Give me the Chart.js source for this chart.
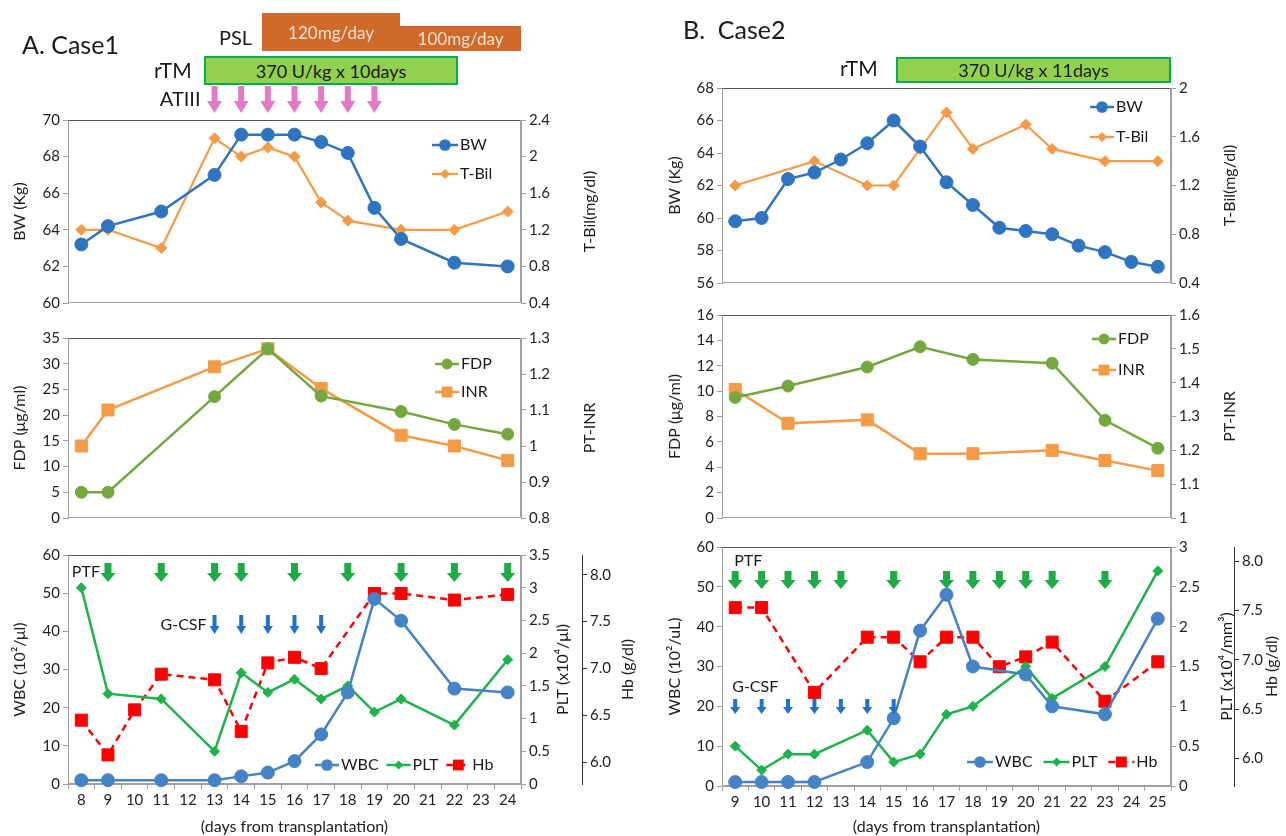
<!DOCTYPE html>
<html>
<head>
<meta charset="utf-8">
<script src="https://cdn.jsdelivr.net/npm/chart.js"></script>
<style>
  body { margin: 0; background: #fff; }
  #page { position: relative; width: 1286px; height: 836px; overflow: hidden; font-family: Lato, "Open Sans", sans-serif; color: #1a1a1a; }
  canvas { position: absolute; }
  .lbl { position: absolute; white-space: nowrap; line-height: 1; }
  .bar { position: absolute; display: flex; align-items: center; justify-content: center; box-sizing: border-box; white-space: nowrap; line-height: 1; }
</style>
</head>
<body>
<div id="page">
  <canvas id="topA" width="640" height="315" style="left:0;top:0"></canvas>
  <canvas id="midA" width="640" height="215" style="left:0;top:315px"></canvas>
  <canvas id="botA" width="640" height="306" style="left:0;top:530px"></canvas>
  <canvas id="topB" width="646" height="295" style="left:640px;top:0"></canvas>
  <canvas id="midB" width="646" height="235" style="left:640px;top:295px"></canvas>
  <canvas id="botB" width="646" height="306" style="left:640px;top:530px"></canvas>

  <div class="lbl" style="left:22px;top:32px;font-size:25px">A. Case1</div>
  <div class="lbl" style="left:219px;top:27px;font-size:20px">PSL</div>
  <div class="bar" style="left:262px;top:13px;width:138px;height:38px;background:#cf6a2b;color:#fbe3cf;font-size:17px">120mg/day</div>
  <div class="bar" style="left:400px;top:26px;width:121px;height:25px;background:#cf6a2b;color:#fbe3cf;font-size:17px">100mg/day</div>
  <div class="lbl" style="left:154px;top:59px;font-size:21px">rTM</div>
  <div class="bar" style="left:204px;top:56px;width:254px;height:29px;background:#92d050;border:2px solid #00b050;font-size:18px">370 U/kg x 10days</div>

  <div class="lbl" style="left:683px;top:17px;font-size:25px">B.&nbsp; Case2</div>
  <div class="lbl" style="left:840px;top:57px;font-size:21px">rTM</div>
  <div class="bar" style="left:896px;top:57px;width:275px;height:26px;background:#92d050;border:2px solid #00b050;font-size:18px">370 U/kg x 11days</div>
</div>
<script>
// === CASE 1 ===
const daysA = [8, 9, 10, 11, 12, 13, 14, 15, 16, 17, 18, 19, 20, 21, 22, 23, 24];
const bwDaysA = [8, 9, 11, 13, 14, 15, 16, 17, 18, 19, 20, 22, 24];
const bwA = [63.2, 64.2, 65.0, 67.0, 69.2, 69.2, 69.2, 68.8, 68.2, 65.2, 63.5, 62.2, 62.0];
const tbilDaysA = [8, 9, 11, 13, 14, 15, 16, 17, 18, 20, 22, 24];
const tbilA = [1.2, 1.2, 1.0, 2.2, 2.0, 2.1, 2.0, 1.5, 1.3, 1.2, 1.2, 1.4];
const coagDaysA = [8, 9, 13, 15, 17, 20, 22, 24];
const fdpA = [5, 5, 23.6, 32.9, 23.7, 20.7, 18.2, 16.3];
const inrA = [1.0, 1.1, 1.22, 1.27, 1.16, 1.03, 1.0, 0.96];
const cbcDaysA = [8, 9, 11, 13, 14, 15, 16, 17, 18, 19, 20, 22, 24];
const wbcA = [1, 1, 1, 1, 2, 3, 6, 13, 24, 48.5, 42.8, 25, 24];
const pltA = [3.0, 1.38, 1.3, 0.5, 1.7, 1.4, 1.6, 1.3, 1.5, 1.1, 1.3, 0.9, 1.9];
const hbDaysA = [8, 9, 10, 11, 13, 14, 15, 16, 17, 19, 20, 22, 24];
const hbA = [6.45, 6.08, 6.56, 6.94, 6.88, 6.33, 7.06, 7.12, 7.0, 7.8, 7.8, 7.73, 7.79];
const at3DaysA = [13, 14, 15, 16, 17, 18, 19];
const ptfDaysA = [9, 11, 13, 14, 16, 18, 20, 22, 24];
const gcsfDaysA = [13, 14, 15, 16, 17];

// === CASE 2 ===
const daysB = [9, 10, 11, 12, 13, 14, 15, 16, 17, 18, 19, 20, 21, 22, 23, 24, 25];
const bwDaysB = [9, 10, 11, 12, 13, 14, 15, 16, 17, 18, 19, 20, 21, 22, 23, 24, 25];
const bwB = [59.8, 60.0, 62.4, 62.8, 63.6, 64.6, 66.0, 64.4, 62.2, 60.8, 59.4, 59.2, 59.0, 58.3, 57.9, 57.3, 57.0];
const tbilDaysB = [9, 12, 14, 15, 16, 17, 18, 20, 21, 23, 25];
const tbilB = [1.2, 1.4, 1.2, 1.2, 1.5, 1.8, 1.5, 1.7, 1.5, 1.4, 1.4];
const coagDaysB = [9, 11, 14, 16, 18, 21, 23, 25];
const fdpB = [9.5, 10.4, 11.9, 13.5, 12.5, 12.2, 7.7, 5.5];
const inrB = [1.38, 1.28, 1.29, 1.19, 1.19, 1.2, 1.17, 1.14];
const cbcDaysB = [9, 10, 11, 12, 14, 15, 16, 17, 18, 20, 21, 23, 25];
const wbcB = [1, 1, 1, 1, 6, 17, 39, 48, 30, 28, 20, 18, 42];
const pltB = [0.5, 0.2, 0.4, 0.4, 0.7, 0.3, 0.4, 0.9, 1.0, 1.5, 1.1, 1.5, 2.7];
const hbDaysB = [9, 10, 12, 14, 15, 16, 17, 18, 19, 20, 21, 23, 25];
const hbB = [7.53, 7.53, 6.67, 7.23, 7.23, 6.98, 7.23, 7.23, 6.93, 7.03, 7.18, 6.58, 6.98];
const ptfDaysB = [9, 10, 11, 12, 13, 15, 17, 18, 19, 20, 21, 23];
const gcsfDaysB = [9, 10, 11, 12, 13, 14, 15];

const FONT = 'Lato, "Open Sans", sans-serif';
Chart.defaults.font.family = FONT;
Chart.defaults.font.size = 15;
Chart.defaults.color = '#222';

const pts = (days, vals) => days.map((d, i) => ({ x: String(d), y: vals[i] }));
const fmt = v => String(Math.round(v * 100) / 100);

function series(label, data, color, style, radius, axis, width, dash) {
  return {
    label, data, yAxisID: axis,
    borderColor: color, backgroundColor: color, borderWidth: width || 2.5, borderDash: dash || [],
    pointStyle: style, pointRadius: radius, pointBorderWidth: 1,
    pointBackgroundColor: color, pointBorderColor: color, tension: 0, clip: false
  };
}

function yAx(position, min, max, step, width, extra) {
  extra = extra || {};
  const line = extra.line || '#a0a0a0';
  return {
    type: 'linear', position, min, max, weight: extra.weight || 0,
    ticks: { stepSize: step, padding: 3, includeBounds: false, callback: extra.fmt || fmt },
    grid: { drawOnChartArea: false, tickLength: 5, color: line },
    border: { color: line },
    title: extra.title
      ? { display: true, text: extra.title, font: { size: 16 }, padding: { top: 3, bottom: 0 } }
      : { display: false },
    afterFit: s => { s.width = width; }
  };
}

const xHidden = { type: 'category', offset: true, display: false };
function xDays(height) {
  return {
    type: 'category', offset: true,
    grid: { offset: true, drawOnChartArea: false, tickLength: 5, color: '#a0a0a0' },
    border: { color: '#a0a0a0' },
    ticks: { autoSkip: false, maxRotation: 0, padding: 2 },
    title: { display: true, text: '(days from transplantation)', font: { size: 16 }, padding: { top: 0, bottom: 0 } },
    afterFit: s => { s.height = height; }
  };
}

// extra drawing per canvas: arrows, in-plot legends, right-hand titles
const extras = {
  topA: {
    arrows: [{ days: at3DaysA, dy: -34, h: 27, sw: 6, hw: 15, hh: 12, color: '#e27ac4',
               label: { text: 'ATIII', dx: -14, dy: -20, align: 'right', size: 20 } }],
    legend: { x: 364, y: 25, dir: 'v', gap: 29, seg: 26, size: 16 },
    side: [{ axis: 'y1', text: 'T-Bil(mg/dl)', dx: 69 }]
  },
  midA: {
    legend: { x: 367, y: 26, dir: 'v', gap: 28, seg: 24, size: 16 },
    side: [{ axis: 'y1', text: 'PT-INR', dx: 69 }]
  },
  botA: {
    arrows: [
      { days: ptfDaysA, dy: 8, h: 19, sw: 7, hw: 15, hh: 9, color: '#1eab47',
        label: { text: 'PTF', dx: -8, dy: 17, align: 'right', size: 16 } },
      { days: gcsfDaysA, dy: 60, h: 19, sw: 4, hw: 10, hh: 8, color: '#1f72c4',
        label: { text: 'G-CSF', dx: -8, dy: 70, align: 'right', size: 16 } }
    ],
    legend: { x: 247, y: 210, dir: 'h', gap: 8, seg: 24, size: 16 },
    side: [{ axis: 'y1', text: 'PLT (x10⁴/μl)', dx: 42 }, { axis: 'y2', text: 'Hb (g/dl)', dx: 46 }]
  },
  topB: {
    legend: { x: 368, y: 19, dir: 'v', gap: 30, seg: 24, size: 16 },
    side: [{ axis: 'y1', text: 'T-Bil(mg/dl)', dx: 59 }]
  },
  midB: {
    legend: { x: 370, y: 24, dir: 'v', gap: 31, seg: 24, size: 16 },
    side: [{ axis: 'y1', text: 'PT-INR', dx: 59 }]
  },
  botB: {
    arrows: [
      { days: ptfDaysB, dy: 24, h: 18, sw: 7, hw: 15, hh: 9, color: '#1eab47',
        label: { text: 'PTF', dx: -1, dy: 14, align: 'left', size: 16 } },
      { days: gcsfDaysB, dy: 152, h: 15, sw: 4, hw: 10, hh: 7, color: '#1f72c4',
        label: { text: 'G-CSF', dx: -3, dy: 140, align: 'left', size: 16 } }
    ],
    legend: { x: 245, y: 215, dir: 'h', gap: 11, seg: 26, size: 16 },
    side: [{ axis: 'y1', text: 'PLT (x10⁴/mm³)', dx: 56 }, { axis: 'y2', text: 'Hb (g/dl)', dx: 38 }]
  }
};

function marker(ctx, style, x, y, r, color) {
  ctx.fillStyle = color;
  ctx.beginPath();
  if (style === 'circle') ctx.arc(x, y, r, 0, Math.PI * 2);
  else if (style === 'rect') { const s = r * Math.SQRT1_2; ctx.rect(x - s, y - s, 2 * s, 2 * s); }
  else { ctx.moveTo(x - r, y); ctx.lineTo(x, y - r); ctx.lineTo(x + r, y); ctx.lineTo(x, y + r); ctx.closePath(); }
  ctx.fill();
}

const extrasPlugin = {
  id: 'extras',
  beforeDatasetsDraw(chart) {
    const { ctx, chartArea: a } = chart;
    const L = Math.round(a.left) + 0.5, R = Math.round(a.right) - 0.5;
    const T = Math.round(a.top) + 0.5, B = Math.round(a.bottom) - 0.5;
    ctx.save();
    ctx.lineWidth = 1;
    ctx.strokeStyle = '#a0a0a0';
    ctx.beginPath(); ctx.moveTo(L, T); ctx.lineTo(L, B); ctx.lineTo(R, B); ctx.lineTo(R, T); ctx.stroke();
    ctx.strokeStyle = '#555';
    ctx.beginPath(); ctx.moveTo(L, T); ctx.lineTo(R, T); ctx.stroke();
    ctx.restore();
  },
  afterDatasetsDraw(chart) {
    const o = extras[chart.canvas.id] || {};
    const { ctx, chartArea: a, scales } = chart;
    const xs = scales.x, labels = xs.getLabels();
    const px = d => xs.getPixelForValue(labels.indexOf(String(d)));
    ctx.save();

    (o.arrows || []).forEach(ar => {
      const top = a.top + ar.dy, neck = top + ar.h - ar.hh;
      ctx.fillStyle = ar.color;
      ar.days.forEach(d => {
        const x = px(d);
        ctx.beginPath();
        ctx.moveTo(x - ar.sw / 2, top);
        ctx.lineTo(x + ar.sw / 2, top);
        ctx.lineTo(x + ar.sw / 2, neck);
        ctx.lineTo(x + ar.hw / 2, neck);
        ctx.lineTo(x, top + ar.h);
        ctx.lineTo(x - ar.hw / 2, neck);
        ctx.lineTo(x - ar.sw / 2, neck);
        ctx.closePath();
        ctx.fill();
      });
      const lb = ar.label;
      if (lb) {
        ctx.fillStyle = '#1a1a1a';
        ctx.font = lb.size + 'px ' + FONT;
        ctx.textAlign = lb.align;
        ctx.textBaseline = 'middle';
        ctx.fillText(lb.text, px(ar.days[0]) + lb.dx, a.top + lb.dy);
      }
    });

    const lg = o.legend;
    if (lg) {
      ctx.font = lg.size + 'px ' + FONT;
      ctx.textAlign = 'left';
      ctx.textBaseline = 'middle';
      let x = a.left + lg.x, y = a.top + lg.y;
      chart.data.datasets.forEach(ds => {
        ctx.strokeStyle = ds.borderColor;
        ctx.lineWidth = ds.borderWidth;
        ctx.setLineDash(ds.borderDash || []);
        ctx.beginPath(); ctx.moveTo(x, y); ctx.lineTo(x + lg.seg, y); ctx.stroke();
        ctx.setLineDash([]);
        marker(ctx, ds.pointStyle, x + lg.seg / 2, y, ds.pointRadius * 0.9, ds.borderColor);
        ctx.fillStyle = '#1a1a1a';
        ctx.fillText(ds.label, x + lg.seg + 2, y);
        if (lg.dir === 'h') x += lg.seg + 2 + ctx.measureText(ds.label).width + lg.gap;
        else y += lg.gap;
      });
    }

    (o.side || []).forEach(t => {
      const s = scales[t.axis];
      ctx.save();
      ctx.translate(s.left + t.dx, (a.top + a.bottom) / 2);
      ctx.rotate(-Math.PI / 2);
      ctx.font = '16px ' + FONT;
      ctx.fillStyle = '#1a1a1a';
      ctx.textAlign = 'center';
      ctx.textBaseline = 'middle';
      ctx.fillText(t.text, 0, 0);
      ctx.restore();
    });
    ctx.restore();
  }
};

function makeChart(id, labels, datasets, scales, padding) {
  return new Chart(document.getElementById(id), {
    type: 'line',
    data: { labels: labels.map(String), datasets },
    options: {
      responsive: false, animation: false, events: [],
      layout: { padding },
      plugins: { legend: { display: false }, tooltip: { enabled: false } },
      scales
    },
    plugins: [extrasPlugin]
  });
}

const BLUE = '#2f74c0', ORANGE = '#f59a45', GREEN = '#74a83f', WBCBLUE = '#4682c6', PLTGREEN = '#1db34a', RED = '#ff0000';

// === CASE 1 CHARTS ===
makeChart('topA', daysA, [
  series('BW', pts(bwDaysA, bwA), BLUE, 'circle', 6.5, 'y'),
  series('T-Bil', pts(tbilDaysA, tbilA), ORANGE, 'rectRot', 5.5, 'y1', 2.2)
], {
  x: xHidden,
  y: yAx('left', 60, 70, 2, 61, { title: 'BW (Kg)' }),
  y1: yAx('right', 0.4, 2.4, 0.4, 119)
}, { left: 7, right: 0, top: 120, bottom: 8 });

makeChart('midA', daysA, [
  series('FDP', pts(coagDaysA, fdpA), GREEN, 'circle', 6, 'y'),
  series('INR', pts(coagDaysA, inrA), ORANGE, 'rect', 8.5, 'y1')
], {
  x: xHidden,
  y: yAx('left', 0, 35, 5, 61, { title: 'FDP (μg/ml)' }),
  y1: yAx('right', 0.8, 1.3, 0.1, 119)
}, { left: 7, right: 0, top: 23, bottom: 8 });

makeChart('botA', daysA, [
  series('WBC', pts(cbcDaysA, wbcA), WBCBLUE, 'circle', 6.5, 'y'),
  series('PLT', pts(cbcDaysA, pltA), PLTGREEN, 'rectRot', 5, 'y1'),
  series('Hb', pts(hbDaysA, hbA), RED, 'rect', 8.5, 'y2', 2.5, [7, 5])
], {
  x: xDays(52),
  y: yAx('left', 0, 60, 10, 61, { title: 'WBC (10²/μl)' }),
  y1: yAx('right', 0, 3.5, 0.5, 61),
  y2: yAx('right', 5.77, 8.21, 0.5, 58, { line: '#333', weight: 1, fmt: v => v.toFixed(1) })
}, { left: 7, right: 0, top: 25, bottom: 0 });

// === CASE 2 CHARTS ===
makeChart('topB', daysB, [
  series('BW', pts(bwDaysB, bwB), BLUE, 'circle', 6.5, 'y'),
  series('T-Bil', pts(tbilDaysB, tbilB), ORANGE, 'rectRot', 5.5, 'y1', 2.2)
], {
  x: xHidden,
  y: yAx('left', 56, 68, 2, 60, { title: 'BW (Kg)' }),
  y1: yAx('right', 0.4, 2, 0.4, 115)
}, { left: 22, right: 0, top: 88, bottom: 9 });

makeChart('midB', daysB, [
  series('FDP', pts(coagDaysB, fdpB), GREEN, 'circle', 6, 'y'),
  series('INR', pts(coagDaysB, inrB), ORANGE, 'rect', 8.5, 'y1')
], {
  x: xHidden,
  y: yAx('left', 0, 16, 2, 60, { title: 'FDP (μg/ml)' }),
  y1: yAx('right', 1, 1.6, 0.1, 115)
}, { left: 22, right: 0, top: 20, bottom: 8 });

makeChart('botB', daysB, [
  series('WBC', pts(cbcDaysB, wbcB), WBCBLUE, 'circle', 6.5, 'y'),
  series('PLT', pts(cbcDaysB, pltB), PLTGREEN, 'rectRot', 5, 'y1'),
  series('Hb', pts(hbDaysB, hbB), RED, 'rect', 8.5, 'y2', 2.5, [7, 5])
], {
  x: xDays(50),
  y: yAx('left', 0, 60, 10, 60, { title: 'WBC (10²/uL)' }),
  y1: yAx('right', 0, 3, 0.5, 63),
  y2: yAx('right', 5.72, 8.145, 0.5, 52, { line: '#333', weight: 1, fmt: v => v.toFixed(1) })
}, { left: 22, right: 0, top: 17, bottom: 0 });
</script>
</body>
</html>
